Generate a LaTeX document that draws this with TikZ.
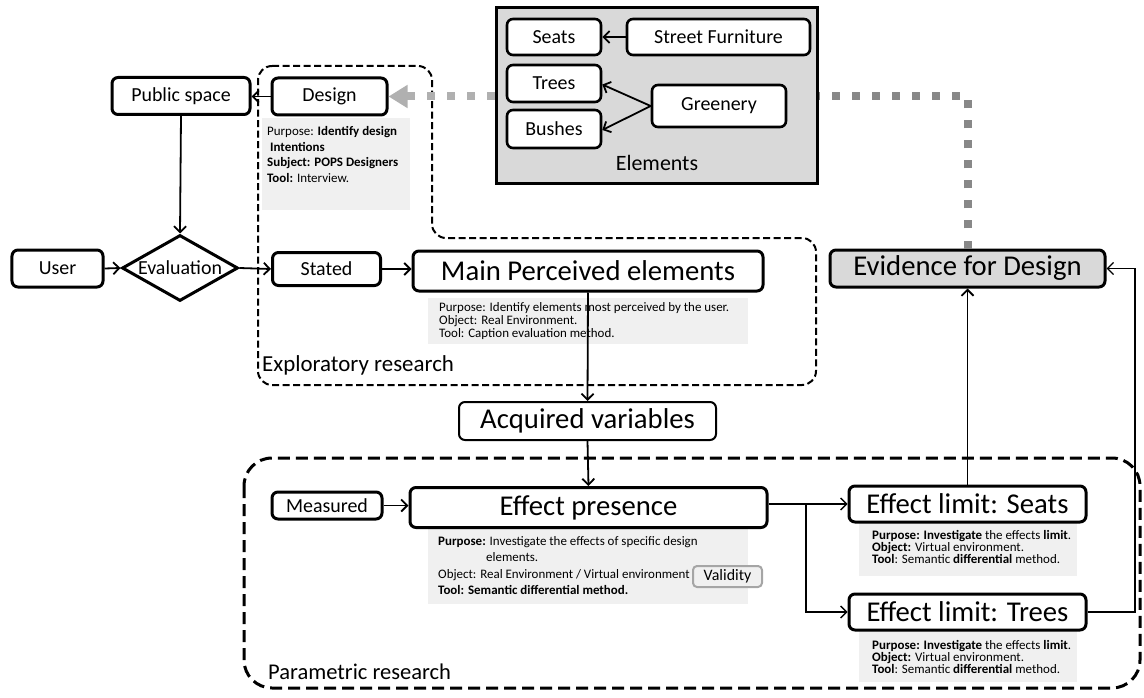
\documentclass[tikz,border=0pt]{standalone}
\usepackage{fontspec}
\setmainfont{Carlito}
\usetikzlibrary{arrows.meta,shapes.geometric}

\definecolor{boxgray}{RGB}{217,217,217}
\definecolor{infogray}{RGB}{240,240,240}
\definecolor{dotdark}{RGB}{136,136,136}
\definecolor{dotlight}{RGB}{176,176,176}
\definecolor{valborder}{RGB}{165,165,165}

\begin{document}
\begin{tikzpicture}[x=1bp,y=-1bp,
  box/.style={draw, line width=3bp, rounded corners=6bp, fill=white, inner sep=0pt,
    font=\fontsize{20}{24}\selectfont},
  bigbox/.style={box, font=\fontsize{28.8}{34}\selectfont},
  elembox/.style={box, line width=2.6bp},
  infotext/.style={anchor=north west, align=left, inner sep=0pt},
  arr/.style={line width=1.8bp, -{Straight Barb[length=6bp,width=12bp]}},
  thinarr/.style={line width=1.4bp, -{Straight Barb[length=6bp,width=12bp]}},
  explore/.style={draw, line width=2bp, dash pattern=on 7bp off 3.5bp, rounded corners=14bp},
  param/.style={draw, line width=3bp, dash pattern=on 12bp off 6bp, rounded corners=28bp},
  gdots/.style={line width=8bp, dash pattern=on 8bp off 12bp},
  region label/.style={anchor=west, inner sep=0pt, font=\fontsize{23}{27}\selectfont}
]
\useasboundingbox (0,0) rectangle (1144,698);

% research regions
\draw[explore] (258,66) -- (432,66) -- (432,238) -- (816,238) -- (816,385) -- (258,385) -- cycle;
\draw[param] (244,458) rectangle (1140,688);
\node[region label] (explabel) at (262,365) {Exploratory research};
\node[region label, font=\fontsize{22.6}{27}\selectfont] (parlabel) at (268,672) {Parametric research};

% grey panels behind the method notes
\fill[infogray] (262,118) rectangle (410,210);
\fill[infogray] (428,298) rectangle (748,344);
\fill[infogray] (428,528) rectangle (748,604);
\fill[infogray] (859,522) rectangle (1077,576);
\fill[infogray] (859,630) rectangle (1077,682);

% main flow nodes
\node[box, minimum width=138bp, minimum height=37bp] (pub) at (181,96) {Public space};
\node[box, minimum width=115bp, minimum height=37bp] (design) at (329.5,96.5) {Design};
\node[box, minimum width=91bp, minimum height=37bp] (user) at (57.5,268.5) {User};
\node[draw, line width=3bp, fill=white, diamond, aspect=1.76, minimum width=116bp,
  minimum height=66bp, inner sep=0pt, font=\fontsize{20}{24}\selectfont] (eval) at (180,268) {Evaluation};
\node[box, minimum width=108bp, minimum height=33bp] (stated) at (326.5,269) {Stated};
\node[bigbox, minimum width=350bp, minimum height=40bp] (mpe) at (588,271) {Main Perceived elements};
\node[bigbox, line width=2bp, minimum width=257bp, minimum height=38bp] (acq) at (587.5,421) {Acquired variables};
\node[box, minimum width=110bp, minimum height=27bp] (meas) at (327,505.5) {Measured};
\node[bigbox, minimum width=357bp, minimum height=40bp] (ep) at (588.5,507.5) {Effect presence};
\node[bigbox, minimum width=237bp, minimum height=36bp] (seats) at (967.5,504) {Effect limit: Seats};
\node[bigbox, minimum width=237bp, minimum height=36bp] (trees) at (967.5,612) {Effect limit: Trees};
\node[bigbox, fill=boxgray, minimum width=275bp, minimum height=37bp] (evid) at (967.5,268.5) {Evidence for Design};
\node[draw=valborder, fill=infogray, line width=2bp, rounded corners=4bp, inner sep=0pt,
  minimum width=69bp, minimum height=21bp, font=\fontsize{16}{19}\selectfont] (valid) at (727.5,576.5) {Validity};

% feedback from the evidence back to design (runs behind the elements panel)
\coordinate (elemR) at (817,96.5);
\draw[gdots, dotdark] (evid.north) |- (elemR);

% elements panel
\node[draw, line width=3bp, fill=boxgray, minimum width=321bp, minimum height=175bp, inner sep=0pt]
  (elem) at (656.5,95.5) {};
\node[elembox, minimum width=94bp, minimum height=36bp] (eseats) at (554,37) {Seats};
\node[elembox, minimum width=183bp, minimum height=36bp] (sf) at (718.5,37) {Street Furniture};
\node[elembox, minimum width=94bp, minimum height=37bp] (etrees) at (554,83.5) {Trees};
\node[elembox, minimum width=94bp, minimum height=38bp] (bushes) at (554,129) {Bushes};
\node[elembox, minimum width=134bp, minimum height=42bp] (green) at (719,106) {Greenery};
\node[inner sep=0pt, font=\fontsize{22}{26}\selectfont] (elemlabel) at (657,163) {Elements};

\draw[gdots, dotlight, -{Triangle[length=19bp,width=22bp]}] (elem.west |- design.east) -- (design.east);

% method notes
\node[infotext, font=\fontsize{13}{15.7}\selectfont] (designinfo) at (267,126.4)
  {Purpose: \textbf{Identify design}\\ \textbf{\ Intentions}\\ \textbf{Subject: POPS Designers}\\ \textbf{Tool:} Interview.};
\node[infotext, font=\fontsize{13}{12.8}\selectfont] (mpeinfo) at (439,302.4)
  {Purpose: Identify elements most perceived by the user.\\ Object: Real Environment.\\ Tool: Caption evaluation method.};
\node[infotext, font=\fontsize{13}{16.3}\selectfont] (epinfo) at (438,536.4)
  {\textbf{Purpose:} Investigate the effects of specific design\\ \hspace*{48bp}elements.\\
   Object: Real Environment / Virtual environment\\ \textbf{Tool: Semantic differential method.}};
\node[infotext, font=\fontsize{13}{12}\selectfont] (seatsinfo) at (872,530.4)
  {\textbf{Purpose: Investigate} the effects \textbf{limit}.\\ \textbf{Object:} Virtual environment.\\ \textbf{Tool}: Semantic \textbf{differential} method.};
\node[infotext, font=\fontsize{13}{12}\selectfont] (treesinfo) at (872,640.4)
  {\textbf{Purpose: Investigate} the effects \textbf{limit}.\\ \textbf{Object:} Virtual environment.\\ \textbf{Tool}: Semantic \textbf{differential} method.};

% connectors
\draw[arr] (design.west) -- (pub.east |- design.west);
\draw[arr] (pub.south) -- (eval.north);
\draw[arr] (user.east) -- (eval.west);
\draw[arr] (eval.east) -- (stated.west);
\draw[arr] (stated.east) -- (mpe.west |- stated.east);
\draw[arr] (mpe.south) -- (acq.north);
\draw[arr] (acq.south) -- (ep.north);
\draw[arr] (meas.east) -- (ep.west |- meas.east);
\coordinate (branch) at (806,504);
\draw[thinarr] (ep.east |- seats.west) -- (seats.west);
\draw[thinarr] (branch) |- (trees.west);
\draw[arr] (seats.north) -- (evid.south);
\draw[thinarr] (trees.east) -- (1135,612) |- (evid.east);
\draw[arr] (sf.west) -- (eseats.east);
\draw[arr] (green.west) -- ([yshift=-1bp]etrees.east);
\draw[arr] (green.west) -- ([yshift=-1bp]bushes.east);
\end{tikzpicture}
\end{document}
